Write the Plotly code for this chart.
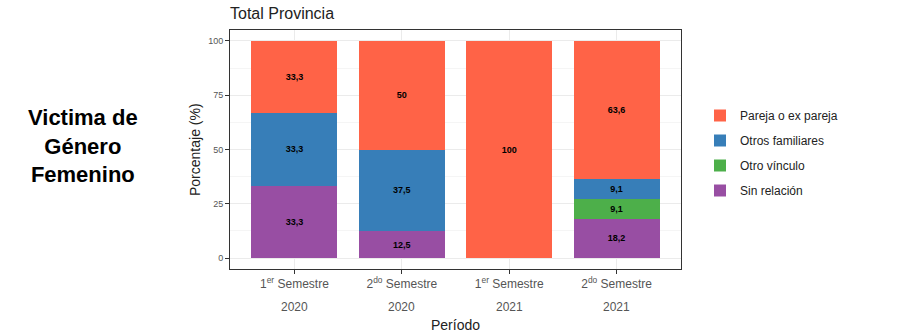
import plotly.graph_objects as go

periods = [1, 2, 3, 4]
semestre_labels = ["1<sup>er</sup> Semestre", "2<sup>do</sup> Semestre", "1<sup>er</sup> Semestre", "2<sup>do</sup> Semestre"]
years = ["2020", "2020", "2021", "2021"]

sin_relacion = [33.4, 12.5, 0, 18.2]
otro_vinculo = [0, 0, 0, 9.1]
otros_familiares = [33.3, 37.5, 0, 9.1]
pareja = [33.3, 50, 100, 63.6]

sin_relacion_txt = ["33,3", "12,5", "", "18,2"]
otro_vinculo_txt = ["", "", "", "9,1"]
otros_familiares_txt = ["33,3", "37,5", "", "9,1"]
pareja_txt = ["33,3", "50", "100", "63,6"]

series = [
    ("Sin relación", sin_relacion, sin_relacion_txt, "#984EA3", 4),
    ("Otro vínculo", otro_vinculo, otro_vinculo_txt, "#4DAF4A", 3),
    ("Otros familiares", otros_familiares, otros_familiares_txt, "#377EB8", 2),
    ("Pareja o ex pareja", pareja, pareja_txt, "#FF6347", 1),
]

fig = go.Figure()
for name, vals, txt, col, rank in series:
    fig.add_trace(go.Bar(
        x=periods, y=vals, name=name, width=0.8, legendgroup=name, legendrank=rank,
        marker=dict(color=col, line=dict(width=0)),
        text=txt, textposition="inside", insidetextanchor="middle",
        textangle=0,
        textfont=dict(family="Liberation Sans", size=9, color="black", weight="bold"),
        constraintext="none",
        hoverinfo="skip",
    ))

L, R, T, B = 230, 224, 30, 66
pw, ph = 905 - L - R, 335 - T - B

fig.update_layout(
    barmode="stack",
    width=905, height=335,
    margin=dict(l=L, r=R, t=T, b=B, autoexpand=False),
    paper_bgcolor="white", plot_bgcolor="white",
    font=dict(family="Liberation Sans", color="black"),
    title=dict(text="Total Provincia", x=230/905, xanchor="left", y=1-13/335, yanchor="middle",
               font=dict(size=16, color="#222222")),
    legend=dict(traceorder="grouped", x=700/905, xref="container", xanchor="left",
                y=1-153/335, yref="container", yanchor="middle",
                font=dict(size=12, color="#222222"),
                itemwidth=30, tracegroupgap=6),
    showlegend=True,
)

fig.update_xaxes(
    range=[0.4, 4.6], tickvals=periods, ticktext=semestre_labels,
    tickfont=dict(size=12, color="#555555"),
    showgrid=True, gridcolor="#EBEBEB", gridwidth=1,
    ticks="outside", ticklen=4, tickcolor="#333333",
    showline=True, linecolor="#333333", linewidth=1, mirror=True,
    zeroline=False, automargin=False,
)
fig.update_yaxes(
    range=[-5, 105], tickvals=[0, 25, 50, 75, 100],
    tickfont=dict(size=9, color="#555555"),
    showgrid=True, gridcolor="#EBEBEB", gridwidth=1,
    minor=dict(tickvals=[12.5, 37.5, 62.5, 87.5], showgrid=True, gridcolor="#F5F5F5"),
    ticks="outside", ticklen=4, tickcolor="#333333",
    showline=True, linecolor="#333333", linewidth=1, mirror=True,
    zeroline=False, automargin=False,
)

for p, yr in zip(periods, years):
    fig.add_annotation(x=p, xref="x", y=0, yref="paper", yshift=-38,
                       text=yr, showarrow=False, yanchor="middle",
                       font=dict(size=12, color="#555555"))

# axis titles
fig.add_annotation(x=0.5, xref="paper", y=(269 - 325) / ph, yref="paper",
                   text="Período", showarrow=False, xanchor="center", yanchor="middle",
                   font=dict(size=14, color="#222222"))
fig.add_annotation(x=(195 - L) / pw, xref="paper", y=(269 - 150) / ph, yref="paper",
                   text="Porcentaje (%)", showarrow=False, textangle=-90,
                   xanchor="center", yanchor="middle",
                   font=dict(size=14, color="#222222"))

fig.add_annotation(x=(83 - L) / pw, xref="paper", y=(269 - 146) / ph, yref="paper",
                   text="<b>Victima de<br>Género<br>Femenino</b>", showarrow=False,
                   xanchor="center", yanchor="middle", align="center",
                   font=dict(size=22, color="black", family="Liberation Sans"))

fig.write_html("out.html")
